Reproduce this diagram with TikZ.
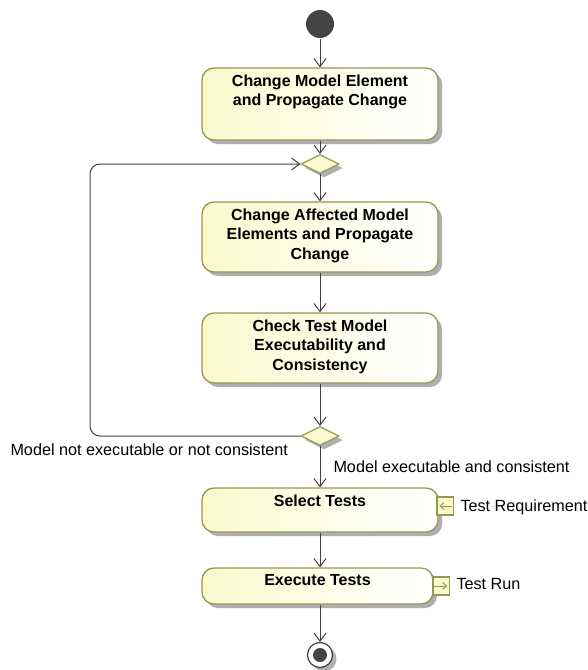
\documentclass[tikz,border=0pt]{standalone}
\usepackage{fontspec}
\setmainfont{Liberation Sans}
\usetikzlibrary{positioning}
\usetikzlibrary{shapes.geometric}
\usetikzlibrary{shadows}
\usetikzlibrary{arrows.meta}
\definecolor{actline}{RGB}{150,150,85}
\definecolor{actfill}{RGB}{250,250,205}
\definecolor{shadowgray}{RGB}{175,175,175}
\definecolor{flowline}{RGB}{64,64,64}
\definecolor{initfill}{RGB}{68,68,68}

\begin{document}
\begin{tikzpicture}[x=1pt, y=-1pt, line width=1pt,
    action/.style={draw=actline, line width=1.3pt, rounded corners=12pt,
        left color=actfill, right color=white, inner sep=0pt,
        drop shadow={shadow xshift=4pt, shadow yshift=-4pt, fill=shadowgray, opacity=1}},
    acttext/.style={font=\bfseries\fontsize{16}{19.5}\selectfont, align=center, inner sep=0pt},
    decision/.style={diamond, draw=actline, fill=actfill, line width=1.2pt,
        minimum width=38pt, minimum height=19pt, inner sep=0pt,
        drop shadow={shadow xshift=4pt, shadow yshift=-4pt, fill=shadowgray, opacity=1}},
    pinbox/.style={rectangle, draw=actline, fill=actfill, line width=1.2pt,
        minimum width=16.5pt, minimum height=18pt, inner sep=0pt},
    pinarrow/.style={draw=actline, line width=1pt, -{Straight Barb[length=4pt, width=7pt]}},
    flow/.style={draw=flowline, line width=1pt, -{Straight Barb[length=8pt, width=12pt]}},
    edgelabel/.style={font=\fontsize{16.2}{19}\selectfont, inner sep=0pt}]
    \useasboundingbox (0,0) rectangle (588,670);

    % start and end
    \node[circle, fill=initfill, minimum size=28pt, inner sep=0pt] (start) at (320,24) {};
    \node[circle, draw=flowline, fill=white, line width=1.2pt, minimum size=25pt, inner sep=0pt,
        drop shadow={shadow xshift=4pt, shadow yshift=-4pt, fill=shadowgray, opacity=1}] (stop) at (320,655) {};
    \node[circle, fill=initfill, minimum size=14pt, inner sep=0pt] (stopdot) at (stop) {};

    % actions
    \node[action, minimum width=236pt, minimum height=72pt] (change) at (320,104) {};
    \node[acttext, anchor=north] (changetxt) at ([yshift=-7pt]change.north)
        {Change Model Element\\and Propagate Change};

    \node[decision] (merge) at (320,164) {};

    \node[action, minimum width=236pt, minimum height=70pt] (affected) at (320,237) {};
    \node[acttext, anchor=north] (affectedtxt) at ([yshift=-7pt]affected.north)
        {Change Affected Model\\Elements and Propagate\\Change};

    \node[action, minimum width=236pt, minimum height=70pt] (checkmodel) at (320,348) {};
    \node[acttext, anchor=north] (checkmodeltxt) at ([yshift=-7pt]checkmodel.north)
        {Check Test Model\\Executability and\\Consistency};

    \node[decision] (check) at (320,436) {};

    \node[action, minimum width=236pt, minimum height=44pt] (select) at (320,510) {};
    \node[acttext, anchor=north] (selecttxt) at ([yshift=-7pt]select.north) {Select Tests};

    \node[action, minimum width=231pt, minimum height=36pt] (execute) at (317.5,586) {};
    \node[acttext, anchor=north] (executetxt) at ([yshift=-7pt]execute.north) {Execute Tests};

    % pins
    \node[pinbox] (req) at (445.3,506) {};
    \draw[pinarrow] ([xshift=7pt]req.center) -- ([xshift=-6pt]req.center);
    \node[edgelabel, anchor=base west] (reqtxt) at (460,511) {Test Requirement};

    \node[pinbox] (run) at (441.3,586) {};
    \draw[pinarrow] ([xshift=-7pt]run.center) -- ([xshift=6pt]run.center);
    \node[edgelabel, anchor=base west] (runtxt) at (456,589) {Test Run};

    % flows
    \draw[flow] (start) -- (change);
    \draw[flow] (change) -- (merge);
    \draw[flow] (merge) -- (affected);
    \draw[flow] (affected) -- (checkmodel);
    \draw[flow] (checkmodel) -- (check);
    \draw[flow] (check) -- (select);
    \draw[flow] (select.south) -- (select.south |- execute.north);
    \draw[flow] (select.south |- execute.south) -- (stop);

    \coordinate (loopbot) at (90,436);
    \coordinate (looptop) at (90,164);
    \draw[flow, rounded corners=10pt] (check.west) -- (loopbot) -- (looptop) -- (merge.west);

    \node[edgelabel, anchor=base west] (notok) at (10,455) {Model not executable or not consistent};
    \node[edgelabel, anchor=base west] (ok) at (333,472) {Model executable and consistent};
\end{tikzpicture}
\end{document}
